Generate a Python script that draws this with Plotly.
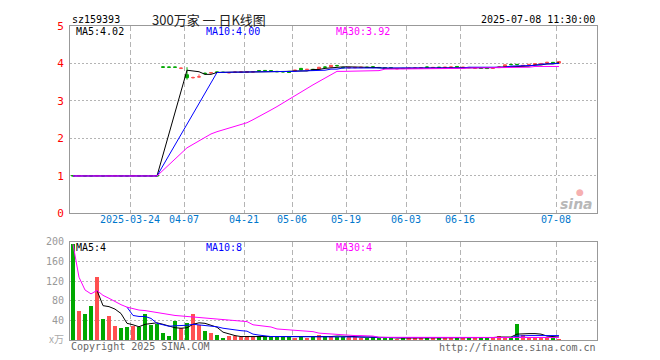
import plotly.graph_objects as go
import pandas as pd

# ---------------- data ----------------
holidays = ["2025-04-04", "2025-05-01", "2025-05-02", "2025-05-05", "2025-06-02"]
days = [d.strftime("%Y-%m-%d") for d in pd.bdate_range("2025-03-10", "2025-07-08")
        if d.strftime("%Y-%m-%d") not in holidays]
idx = list(range(len(days)))

tick_dates = ["2025-03-24", "2025-04-07", "2025-04-21", "2025-05-06",
              "2025-05-19", "2025-06-03", "2025-06-16", "2025-07-08"]
tick_labels = ["2025-03-24", "04-07", "04-21", "05-06", "05-19", "06-03", "06-16", "07-08"]

# OHLC (idx 0..81)
opens = [1.012, 1.000, 1.012, 1.012, 1.000, 1.012, 1.000, 1.000, 1.012, 1.012,
         1.000, 1.012, 1.012, 1.012, 1.012,
         3.910, 3.905, 3.905, 3.870, 3.700, 3.620, 3.640, 3.740, 3.750,
         3.775, 3.770, 3.750, 3.765, 3.770, 3.765, 3.770, 3.810, 3.815, 3.810,
         3.790, 3.785, 3.790, 3.800, 3.870, 3.830, 3.845, 3.850, 3.905, 3.905,
         3.945, 3.895, 3.880, 3.885, 3.890, 3.900, 3.910, 3.895, 3.890, 3.885,
         3.855, 3.870, 3.870, 3.870, 3.870, 3.905, 3.885, 3.900, 3.895, 3.900,
         3.920, 3.895, 3.895, 3.875, 3.880, 3.885, 3.870, 3.890, 3.915, 3.975,
         3.975, 3.940, 3.965, 3.970, 3.990, 4.010, 4.030, 4.010]
highs = [1.015, 1.015, 1.015, 1.015, 1.015, 1.015, 1.015, 1.015, 1.015, 1.015,
         1.015, 1.015, 1.015, 1.015, 1.015,
         3.920, 3.905, 3.905, 3.890, 3.900, 3.650, 3.710, 3.760, 3.770,
         3.780, 3.775, 3.760, 3.780, 3.790, 3.780, 3.785, 3.820, 3.825, 3.820,
         3.800, 3.790, 3.800, 3.830, 3.875, 3.850, 3.850, 3.905, 3.925, 3.960,
         3.965, 3.905, 3.900, 3.900, 3.905, 3.910, 3.930, 3.900, 3.895, 3.890,
         3.870, 3.875, 3.880, 3.885, 3.890, 3.915, 3.900, 3.905, 3.905, 3.910,
         3.925, 3.905, 3.900, 3.885, 3.885, 3.890, 3.885, 3.915, 3.970, 3.985,
         3.990, 3.955, 3.985, 4.000, 4.010, 4.045, 4.035, 4.060]
lows = [0.998, 0.998, 0.998, 0.998, 0.998, 0.998, 0.998, 0.998, 0.998, 0.998,
        0.998, 0.998, 0.998, 0.998, 0.998,
        3.880, 3.900, 3.900, 3.850, 3.570, 3.600, 3.620, 3.710, 3.730,
        3.760, 3.755, 3.745, 3.760, 3.765, 3.760, 3.765, 3.800, 3.800, 3.800,
        3.775, 3.770, 3.750, 3.795, 3.820, 3.820, 3.810, 3.845, 3.885, 3.900,
        3.925, 3.875, 3.875, 3.880, 3.885, 3.890, 3.875, 3.885, 3.880, 3.870,
        3.850, 3.860, 3.865, 3.865, 3.865, 3.895, 3.880, 3.890, 3.890, 3.895,
        3.905, 3.890, 3.885, 3.865, 3.865, 3.860, 3.865, 3.885, 3.910, 3.960,
        3.955, 3.935, 3.960, 3.965, 3.985, 4.005, 4.005, 4.005]
closes = [1.000, 1.012, 1.000, 1.000, 1.012, 1.000, 1.012, 1.012, 1.000, 1.000,
          1.012, 1.000, 1.000, 1.000, 1.000,
          3.900, 3.900, 3.900, 3.875, 3.620, 3.625, 3.645, 3.730, 3.755,
          3.765, 3.760, 3.755, 3.770, 3.775, 3.780, 3.780, 3.805, 3.810, 3.805,
          3.780, 3.775, 3.760, 3.820, 3.830, 3.845, 3.815, 3.900, 3.900, 3.950,
          3.940, 3.885, 3.895, 3.895, 3.900, 3.895, 3.905, 3.890, 3.885, 3.880,
          3.865, 3.865, 3.875, 3.880, 3.885, 3.900, 3.895, 3.895, 3.900, 3.905,
          3.915, 3.900, 3.890, 3.880, 3.870, 3.865, 3.875, 3.905, 3.965, 3.970,
          3.970, 3.950, 3.975, 3.995, 4.000, 4.030, 4.010, 4.050]

# price moving averages (None = not drawn, line bridges the gap)
ma5 = ([1.0] * 6 + [1.005] * 3 + [1.0] * 6 + [None] * 4 +
       [3.82, 3.79, 3.78, 3.71, 3.71, 3.76, 3.77, 3.77, 3.77, 3.77,
        3.77, 3.77, 3.78, 3.79, 3.79, 3.79, 3.79, 3.79, 3.80, 3.80,
        3.80, 3.84, 3.84, 3.87, 3.88, 3.91, 3.91, 3.91, 3.91, 3.89,
        3.89, 3.89, 3.89, 3.87, 3.87, 3.87, 3.87, 3.87, 3.87, 3.87,
        3.87, 3.87, 3.89, 3.89, 3.89, 3.89, 3.89, 3.89, 3.89, 3.89,
        3.89, 3.89, 3.90, 3.91, 3.91, 3.93, 3.93, 3.93, 3.96, 3.96,
        3.99, 3.99, 4.02])
ma10 = ([1.0] * 15 + [None] * 9 +
        [3.76, 3.77, 3.77, 3.77, 3.77, 3.77, 3.77, 3.77, 3.77, 3.77,
         3.79, 3.79, 3.79, 3.79, 3.80, 3.80, 3.80, 3.82, 3.82, 3.85,
         3.85, 3.88, 3.88, 3.88, 3.89, 3.89, 3.89, 3.89, 3.88, 3.88,
         3.88, 3.88, 3.87, 3.87, 3.87, 3.88, 3.88, 3.88, 3.88, 3.88,
         3.88, 3.88, 3.90, 3.90, 3.90, 3.90, 3.90, 3.90, 3.90, 3.93,
         3.93, 3.93, 3.95, 3.95, 3.98, 3.98, 3.98, 4.00])
ma30 = ([1.0] * 15 + [None] * 4 +
        [1.75, 1.84, 1.93, 2.02, 2.12, 2.18, 2.23, 2.27, 2.31, 2.36,
         2.42, 2.50, 2.58, 2.67, 2.76, 2.85, 2.95, 3.05, 3.15, 3.24,
         3.33, 3.43, 3.52, 3.61, 3.71, 3.79, 3.79, 3.79, 3.79, 3.79,
         3.81, 3.81, 3.81, 3.85, 3.85, 3.85, 3.85, 3.85, 3.85, 3.85,
         3.87, 3.87, 3.87, 3.87, 3.87, 3.87, 3.87, 3.88, 3.88, 3.88,
         3.88, 3.88, 3.90, 3.90, 3.90, 3.90, 3.90, 3.90, 3.92, 3.92,
         3.92, 3.92, 3.92])

# volume (万)
volume = [195, 60, 52, 69, 128, 42, 48, 28, 24, 26,
          29, 27, 54, 30, 33, 15, 9, 38, 25, 35,
          52, 31, 19, 15, 11, 5, 8, 8, 6, 8,
          6, 8, 8, 8, 7, 6, 6, 5, 6, 5,
          6, 10, 8, 7, 7, 7, 7, 7, 4, 4,
          7, 4, 4, 4, 3, 4, 4, 4, 4, 4,
          4, 4, 4, 4, 7, 4, 4, 4, 7, 4,
          4, 9, 4, 4, 32, 11, 7, 7, 7, 7,
          7, 3]
vma5 = ([None] * 4 +
        [101, 70, 68, 63, 54, 34, 31, 27, 32, 33,
         35, 32, 28, 25, 24, 25, 32, 35, 34, 30,
         26, 16, 12, 9, 7, 7, 7, 7, 7, 7,
         7, 7, 6, 6, 6, 6, 6, 7, 7, 7,
         8, 8, 8, 7, 6, 6, 5, 5, 5, 5,
         4, 4, 4, 4, 4, 4, 4, 4, 4, 4,
         5, 5, 5, 5, 5, 5, 5, 6, 6, 6,
         12, 13, 13, 13, 12, 8, 7, 6])
vma10 = ([None] * 9 +
         [67, 50, 48, 48, 44, 34, 31, 28, 29, 29,
          30, 32, 31, 30, 29, 27, 24, 22, 20, 19,
          18, 12, 10, 8, 7, 7, 7, 7, 7, 7,
          6, 6, 6, 6, 6, 6, 6, 7, 7, 6,
          6, 6, 5, 5, 5, 4.5, 4.5, 4.5, 4.5, 4.5,
          4.5, 4.5, 4.5, 4.5, 4.5, 5, 5, 5, 5, 5,
          5, 5, 5, 5, 5, 8, 9, 9, 9, 9,
          9, 10, 9])
vma30 = [195, 128, 102, 94, 101, 91, 85, 78, 72, 67,
         64, 61, 60, 58, 56, 53.5, 51, 50, 49, 48,
         48, 47, 46, 45, 43.5, 42, 41, 40, 38.5, 37.5,
         31, 29, 27.5, 26.5, 22.5, 21.5, 20, 19, 18, 18,
         17, 14, 13, 12.5, 11, 11, 10, 9, 9, 8.5,
         8, 5.5, 5.5, 5.5, 5.5, 5.5, 5.5, 5.5, 5.5, 5.5,
         5.5, 5.5, 5.5, 4.5, 4.5, 4.5, 4.5, 4.5, 4.5, 4.5,
         4.5, 4.5, 4.5, 4.5, 5, 5, 5, 5, 5, 5,
         5, 5]

price_ticks = [0, 1, 2, 3, 4, 5]
vol_ticks = [0, 40, 80, 120, 160, 200]
vol_tick_text = ["", "40", "80", "120", "160", "200"]

# ---------------- styles ----------------
RED = "#ff5050"
GREEN = "#00a800"
MONO = "DejaVu Sans Mono"
FRAME = "#999999"
GRID = "#b4b4b4"

tick_pos = [days.index(d) - 0.5 for d in tick_dates]
vol_colors = [RED if c >= o else GREEN for o, c in zip(opens, closes)]

# plot area in screen pixels: left 70, right 597, top 20, bottom 340
L, R, T, B = 70, 597, 20, 340
W, H = R - L, B - T
OFF = 8  # the page body adds an 8px margin around the figure


def px(x):
    return (x - L) / W


def py(y):
    return (B - y) / H


fig = go.Figure()

fig.add_trace(go.Candlestick(
    x=idx, open=opens, high=highs, low=lows, close=closes,
    increasing=dict(line=dict(color=RED, width=1), fillcolor=RED),
    decreasing=dict(line=dict(color=GREEN, width=1), fillcolor=GREEN),
    whiskerwidth=0, hoverinfo="skip", showlegend=False, xaxis="x", yaxis="y"))

for vals, col in [(ma5, "#000000"), (ma10, "#0000ff"), (ma30, "#ff00ff")]:
    fig.add_trace(go.Scatter(x=idx, y=vals, mode="lines", connectgaps=True,
                             line=dict(color=col, width=1), hoverinfo="skip",
                             showlegend=False, xaxis="x", yaxis="y"))

fig.add_trace(go.Bar(x=idx, y=volume, marker=dict(color=vol_colors, line=dict(width=0)),
                     width=0.83, hoverinfo="skip", showlegend=False,
                     xaxis="x2", yaxis="y2"))
for vals, col in [(vma5, "#000000"), (vma10, "#0000ff"), (vma30, "#ff00ff")]:
    fig.add_trace(go.Scatter(x=idx, y=vals, mode="lines",
                             line=dict(color=col, width=1), hoverinfo="skip",
                             showlegend=False, xaxis="x2", yaxis="y2"))

xr = [-0.5, (R - 73) / 6]
common_x = dict(range=xr, tickvals=tick_pos, showgrid=True, gridcolor=GRID,
                griddash="5px,3px", gridwidth=1, showline=True, mirror=True,
                linecolor=FRAME, linewidth=1, ticks="", zeroline=False, fixedrange=True)

fig.update_layout(
    width=660, height=360,
    margin=dict(l=L - OFF, r=660 - (R - OFF), t=T - OFF, b=360 - (B - OFF)),
    paper_bgcolor="white", plot_bgcolor="white",
    bargap=0, hovermode=False,
    xaxis=dict(**common_x, domain=[0, 1], anchor="y", ticktext=tick_labels,
               tickfont=dict(family=MONO, size=10, color="#0077cc"),
               rangeslider=dict(visible=False), ticklabelstandoff=-3),
    yaxis=dict(domain=[py(211), 1], range=[0, 5], tickvals=price_ticks,
               showgrid=True, gridcolor=GRID, griddash="2px,2px", gridwidth=1,
               showline=True, mirror=True, linecolor=FRAME, linewidth=1,
               zeroline=False, ticks="", fixedrange=True, anchor="x",
               tickfont=dict(family=MONO, size=11, color="#ff0000"),
               ticklabelstandoff=3),
    xaxis2=dict(**common_x, domain=[0, 1], anchor="y2", showticklabels=False),
    yaxis2=dict(domain=[0, py(240)], range=[0, 200], tickvals=vol_ticks,
                ticktext=vol_tick_text,
                showgrid=True, gridcolor=GRID, griddash="2px,2px", gridwidth=1,
                showline=True, mirror=True, linecolor=FRAME, linewidth=1,
                zeroline=False, ticks="", fixedrange=True, anchor="x2",
                tickfont=dict(family=MONO, size=10, color="#999999"),
                ticklabelstandoff=3),
)

ann = []


def text(x, y, s, color="#000", size=10, xanchor="left", family=MONO, **kw):
    ann.append(dict(x=px(x), y=py(y), xref="paper", yref="paper", text=s,
                    showarrow=False, xanchor=xanchor, yanchor="middle",
                    font=dict(family=family, size=size, color=color), **kw))


text(70, 13, "sz159393")
text(209, 13, "300万家 一 日K线图", size=13, xanchor="center",
     family="Noto Sans CJK SC", color="#222")
text(597, 13, "2025-07-08 11:30:00", xanchor="right")
text(74, 26, "MA5:4.02")
text(204, 26, "MA10:4.00", color="#0000ff")
text(334, 26, "MA30:3.92", color="#ff00ff")
text(74, 246, "MA5:4")
text(204, 246, "MA10:8", color="#0000ff")
text(334, 246, "MA30:4", color="#ff00ff")
text(66, 338, "x万", color="#aaaaaa", xanchor="right", family="Noto Sans CJK SC", size=10)
text(69, 347, "Copyright 2025 SINA.COM", color="#666666")
text(598, 348, "http://finance.sina.com.cn", color="#666666", xanchor="right")
text(576, 201, "<b><i>sina</i></b>", color="#b8b8b8", size=14, xanchor="center",
     family="DejaVu Sans")
text(580, 189, "●", color="#f6b0b0", size=9, xanchor="center", family="DejaVu Sans")
fig.update_layout(annotations=ann)

fig.write_html("out.html", config=dict(displayModeBar=False, staticPlot=True))
